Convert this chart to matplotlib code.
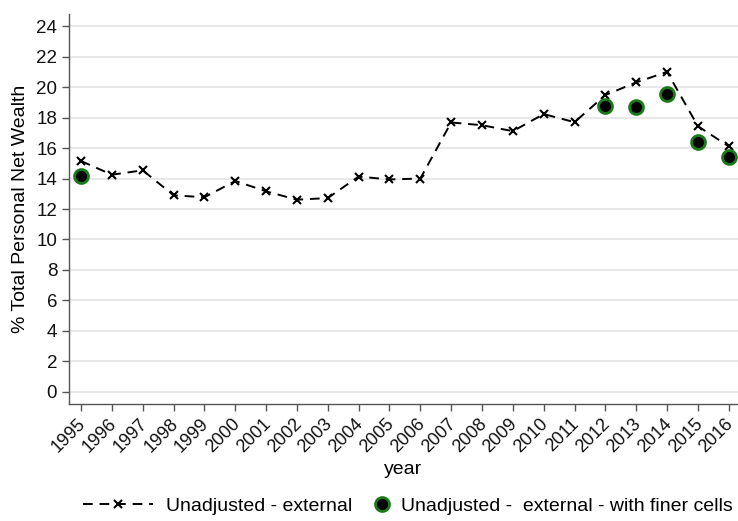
import matplotlib
matplotlib.use("Agg")
import matplotlib.pyplot as plt
import matplotlib.transforms as mtransforms
import numpy as np

plt.rcParams['font.family'] = ['Liberation Sans', 'DejaVu Sans']

years = list(range(1995, 2017))
unadjusted_external = [15.15, 14.25, 14.54, 12.90, 12.77, 13.84, 13.16, 12.61, 12.72, 14.13,
                       13.94, 14.00, 17.68, 17.50, 17.11, 18.23, 17.70, 19.48, 20.31, 21.00,
                       17.44, 16.11]
finer_years = [1995, 2012, 2013, 2014, 2015, 2016]
finer_cells = [14.16, 18.75, 18.69, 19.52, 16.37, 15.39]
y_ticks = list(range(0, 25, 2))

W, H = 738, 521
fig = plt.figure(figsize=(W / 100, H / 100), dpi=100)
ax = fig.add_axes([69 / W, 117 / H, 669 / W, 390 / H])

line, = ax.plot(years, unadjusted_external, color='black', linestyle=(0, (5, 3.5)),
                linewidth=1.4, marker='x', markersize=6, markeredgewidth=1.5,
                label='Unadjusted - external', zorder=3)
dots, = ax.plot(finer_years, finer_cells, linestyle='none', marker='o', markersize=10,
                markerfacecolor='black', markeredgecolor='#1a7a1a', markeredgewidth=2,
                label='Unadjusted -  external - with finer cells', zorder=4)

ax.set_xlim(1994.61, 2016.3)
ax.set_ylim(-0.8, 24.8)
ax.set_yticks(y_ticks)
ax.set_xticks(years)
ax.set_xticklabels([str(y) for y in years], rotation=45, ha='right', rotation_mode='anchor')

ax.yaxis.grid(True, color='#e6e6e6', linewidth=1.3)
ax.set_axisbelow(True)
for s in ['top', 'right']:
    ax.spines[s].set_visible(False)
for s in ['left', 'bottom']:
    ax.spines[s].set_color('#555555')
    ax.spines[s].set_linewidth(1.0)
ax.tick_params(axis='both', direction='out', length=5, width=1, color='#555555',
               labelsize=13.5, labelcolor='#111111')
ax.tick_params(axis='x', pad=3, labelsize=13)

# nudge the rotated year labels slightly left so they sit under their ticks
shift = mtransforms.ScaledTranslation(-4 / 100, 0, fig.dpi_scale_trans)
for lbl in ax.get_xticklabels():
    lbl.set_transform(lbl.get_transform() + shift)

ax.set_ylabel('% Total Personal Net Wealth', fontsize=14, labelpad=5)
ax.set_xlabel('year', fontsize=14, labelpad=4)

# two legend entries placed side by side, each with its own handle length
leg_y = 1 - 506 / H
fig.legend(handles=[line], loc='center left', bbox_to_anchor=(83 / W, leg_y),
           frameon=False, fontsize=14, handlelength=3.6, handletextpad=0.67,
           borderpad=0, borderaxespad=0)
fig.legend(handles=[dots], loc='center left', bbox_to_anchor=(374 / W, leg_y),
           frameon=False, fontsize=14, handlelength=0.8, handletextpad=0.57,
           borderpad=0, borderaxespad=0)

fig.savefig('out.png', dpi=100, facecolor='white')
